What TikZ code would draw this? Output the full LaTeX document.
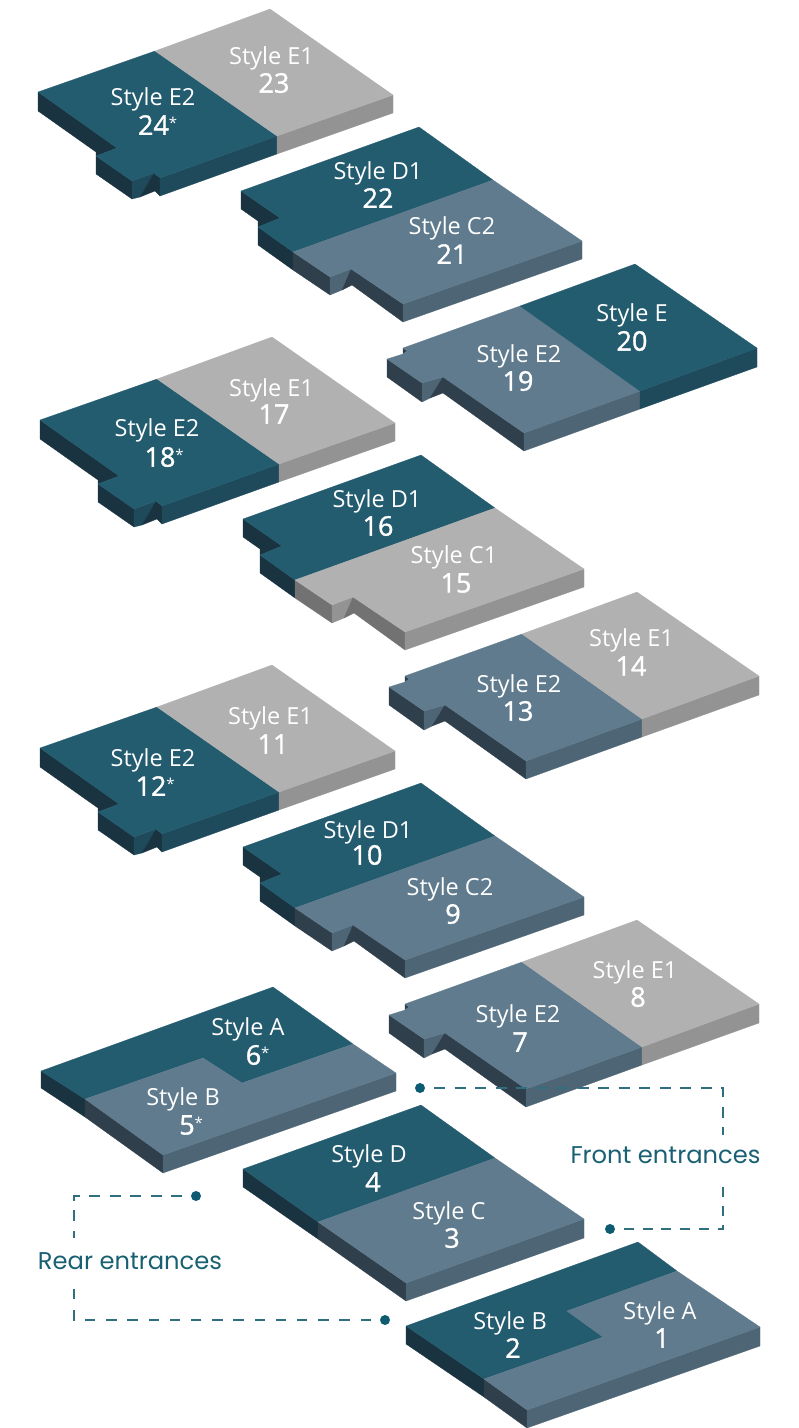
\documentclass[tikz,border=0pt]{standalone}
\usepackage{fontspec}
\setmainfont{Open Sans}
\newfontfamily\numfont[FakeBold=1.3]{Open Sans}
\newfontfamily\capfont{Poppins}
\newcommand{\starmark}{\rlap{\raisebox{6.5pt}{\rmfamily\fontsize{15}{15}\selectfont *}}}
\definecolor{tealT}{HTML}{235B6F}\definecolor{tealF}{HTML}{1E4A5C}\definecolor{tealL}{HTML}{1A3340}
\definecolor{slateT}{HTML}{5F7B8D}\definecolor{slateF}{HTML}{4E6575}\definecolor{slateL}{HTML}{2F3F4B}
\definecolor{greyT}{HTML}{B1B1B1}\definecolor{greyF}{HTML}{939393}\definecolor{greyL}{HTML}{727272}
\definecolor{capc}{HTML}{1A6073}\definecolor{dashc}{HTML}{2F6F80}\definecolor{dotc}{HTML}{0F5C72}
\tikzset{
 facet/.style={fill=#1,draw=#1,line width=.25pt,line join=round},
 stylelab/.style={text=white,font=\fontsize{23.5}{25}\selectfont,inner sep=0pt,yshift=-3pt},
 numlab/.style={text=white,font=\numfont\fontsize{27}{28}\selectfont,inner sep=0pt},
 caplab/.style={text=capc,font=\capfont\fontsize{24.2}{26}\selectfont,inner sep=0pt,yshift=-1pt},
 dotmark/.style={circle,fill=dotc,inner sep=0pt,minimum size=10pt},
 dashline/.style={draw=dashc,line width=1.1pt,shorten <=14pt}
}
\newcommand{\blockOne}[4]{\begin{scope}[shift={(#1,#2)}]
 \fill[facet=#3L] (38,92)--(117,148)--(96,156)--(96,152)--(38,111)--cycle;
 \fill[facet=#3L] (96,156)--(132,181)--(132,199)--(96,174)--cycle;
 \fill[facet=#3F] (132,181)--(154,173)--(140,197)--(132,199)--cycle;
 \fill[facet=#3L] (154,173)--(160,178)--(160,196)--(155,191)--(140,197)--cycle;
 \fill[facet=#3F] (160,178)--(277,136)--(277,154)--(160,196)--cycle;
 \fill[facet=#4F] (277,136)--(393,95)--(393,113)--(277,154)--cycle;
 \fill[facet=#3T] (38,92)--(155,51)--(277,136)--(160,178)--(154,173)--(132,181)--(96,156)--(117,148)--cycle;
 \fill[facet=#4T] (155,51)--(270,9)--(393,95)--(277,136)--cycle;
\end{scope}}
\newcommand{\blockTwo}[4]{\begin{scope}[shift={(#1,#2)}]
 \fill[facet=#3L] (241,191)--(280,218)--(258,227)--(258,221)--(241,209)--cycle;
 \fill[facet=#3L] (258,227)--(293,252)--(293,270)--(258,245)--cycle;
 \fill[facet=#4L] (293,252)--(330,277)--(330,295)--(293,270)--cycle;
 \fill[facet=#4F] (330,277)--(351,269)--(342,290)--(330,295)--cycle;
 \fill[facet=#4L] (351,269)--(342,290)--(352,285)--(403,322)--(403,304)--cycle;
 \fill[facet=#4F] (403,304)--(582,241)--(582,259)--(403,322)--cycle;
 \fill[facet=#3T] (241,191)--(419,127)--(493,180)--(293,252)--(258,227)--(280,218)--cycle;
 \fill[facet=#4T] (493,180)--(582,241)--(403,304)--(351,269)--(330,277)--(293,252)--cycle;
\end{scope}}
\newcommand{\blockThree}[4]{\begin{scope}[shift={(#1,#2)}]
 \fill[facet=#3L] (403,348)--(407,351)--(403,354)--cycle;
 \fill[facet=#3L] (387,359)--(422,383)--(422,402)--(387,377)--cycle;
 \fill[facet=#3F] (422,383)--(443,377)--(430,398)--(422,402)--cycle;
 \fill[facet=#3L] (443,377)--(430,398)--(443,393)--(524,451)--(524,433)--cycle;
 \fill[facet=#3F] (524,433)--(640,391)--(640,409)--(524,451)--cycle;
 \fill[facet=#4F] (640,391)--(757,348)--(757,367)--(640,409)--cycle;
 \fill[facet=#3T] (387,359)--(403,354)--(407,351)--(403,348)--(520,306)--(640,391)--(524,433)--(443,377)--(422,383)--cycle;
 \fill[facet=#4T] (520,306)--(635,264)--(757,348)--(640,391)--cycle;
\end{scope}}
\begin{document}
\begin{tikzpicture}[x=1pt,y=-1pt]
\useasboundingbox (0,0) rectangle (799,1428);
\blockOne{0}{0}{teal}{grey}
\blockTwo{0}{0}{teal}{slate}
\blockThree{0}{0}{slate}{teal}
\blockOne{2}{328}{teal}{grey}
\blockTwo{2}{328}{teal}{grey}
\blockThree{2}{328}{slate}{grey}
\blockOne{2}{656}{teal}{grey}
\blockTwo{2}{656}{teal}{slate}
\blockThree{2}{656}{slate}{grey}
% 6/5
\fill[facet=tealL] (41,1071)--(85,1099)--(85,1117)--(41,1088)--cycle;
\fill[facet=slateL] (85,1099)--(163,1155)--(163,1173)--(85,1117)--cycle;
\fill[facet=slateF] (163,1155)--(396,1073)--(396,1091)--(163,1173)--cycle;
\fill[facet=tealT] (41,1071)--(273,987)--(353,1044)--(242,1083)--(203,1058)--(85,1099)--cycle;
\fill[facet=slateT] (85,1099)--(203,1058)--(242,1083)--(353,1044)--(396,1073)--(163,1155)--cycle;
% 4/3
\fill[facet=tealL] (243,1169)--(318,1222)--(318,1239)--(243,1187)--cycle;
\fill[facet=slateL] (318,1222)--(406,1283)--(406,1301)--(318,1239)--cycle;
\fill[facet=slateF] (406,1283)--(584,1219)--(584,1238)--(406,1301)--cycle;
\fill[facet=tealT] (243,1169)--(421,1105)--(495,1158)--(318,1222)--cycle;
\fill[facet=slateT] (318,1222)--(495,1158)--(584,1219)--(406,1283)--cycle;
% 2/1
\fill[facet=tealL] (406,1326)--(484,1379)--(484,1397)--(406,1344)--cycle;
\fill[facet=slateL] (484,1379)--(527,1410)--(527,1428)--(484,1397)--cycle;
\fill[facet=slateF] (527,1410)--(760,1327)--(760,1346)--(527,1428)--cycle;
\fill[facet=tealT] (406,1326)--(638,1242)--(677,1271)--(567,1311)--(603,1337)--(484,1379)--cycle;
\fill[facet=slateT] (484,1379)--(603,1337)--(567,1311)--(677,1271)--(760,1327)--(527,1410)--cycle;
% labels
\node[stylelab] (s23) at (271.5,55) {Style E1}; \node[numlab] (n23) at (274,83) {23};
\node[stylelab] (s24) at (153,96) {Style E2}; \node[numlab] (n24) at (153.5,125) {24\starmark};
\node[stylelab] (s22) at (378,170) {Style D1}; \node[numlab] (n22) at (378,198) {22};
\node[stylelab] (s21) at (452,225) {Style C2}; \node[numlab] (n21) at (452,254) {21};
\node[stylelab] (s20) at (632,312) {Style E}; \node[numlab] (n20) at (632,341) {20};
\node[stylelab] (s19) at (519,353) {Style E2}; \node[numlab] (n19) at (518,381) {19};
\node[stylelab] (s17) at (271.5,387) {Style E1}; \node[numlab] (n17) at (274,414) {17};
\node[stylelab] (s18) at (157,427) {Style E2}; \node[numlab] (n18) at (160,457) {18\starmark};
\node[stylelab] (s16) at (377,498) {Style D1}; \node[numlab] (n16) at (378,526) {16};
\node[stylelab] (s15) at (454,554) {Style C1}; \node[numlab] (n15) at (456,583) {15};
\node[stylelab] (s14) at (631.5,637) {Style E1}; \node[numlab] (n14) at (631,666) {14};
\node[stylelab] (s13) at (519,683) {Style E2}; \node[numlab] (n13) at (518,711) {13};
\node[stylelab] (s11) at (270.5,715) {Style E1}; \node[numlab] (n11) at (273,744) {11};
\node[stylelab] (s12) at (153,757) {Style E2}; \node[numlab] (n12) at (151,786) {12\starmark};
\node[stylelab] (s10) at (368,829) {Style D1}; \node[numlab] (n10) at (367,855) {10};
\node[stylelab] (s9) at (450,886) {Style C2}; \node[numlab] (n9) at (453,914) {9};
\node[stylelab] (s8) at (635,969) {Style E1}; \node[numlab] (n8) at (638,997) {8};
\node[stylelab] (s7) at (518,1013) {Style E2}; \node[numlab] (n7) at (520,1042) {7};
\node[stylelab] (s6) at (248,1026) {Style A}; \node[numlab] (n6) at (253.5,1055) {6\starmark};
\node[stylelab] (s5) at (183,1096) {Style B}; \node[numlab] (n5) at (187,1125) {5\starmark};
\node[stylelab] (s4) at (369,1153) {Style D}; \node[numlab] (n4) at (373,1182) {4};
\node[stylelab] (s3) at (449,1210) {Style C}; \node[numlab] (n3) at (452,1238) {3};
\node[stylelab] (s2) at (510,1320) {Style B}; \node[numlab] (n2) at (513,1348) {2};
\node[stylelab] (s1) at (660,1310) {Style A}; \node[numlab] (n1) at (662,1338) {1};
% captions and leaders
\node[caplab] (rear) at (130,1260) {Rear entrances};
\node[caplab] (front) at (665.5,1154) {Front entrances};
\node[dotmark] (rd1) at (196,1196) {};
\node[dotmark] (rd2) at (385,1320) {};
\node[dotmark] (fd1) at (420,1088) {};
\node[dotmark] (fd2) at (610,1229) {};
\coordinate (rc1) at (74,1196); \coordinate (re1) at (74,1238);
\coordinate (rc2) at (74,1320); \coordinate (re2) at (74,1285);
\coordinate (fc1) at (723,1088); \coordinate (fe1) at (723,1135);
\coordinate (fc2) at (723,1229); \coordinate (fe2) at (723,1187);
\draw[dashline,dash pattern=on 11pt off 9.4pt] (rd1.center) -- (rc1) -- (re1);
\draw[dashline,dash pattern=on 10.5pt off 10.7pt] (rd2.center) -- (rc2) -- (re2);
\draw[dashline,dash pattern=on 11pt off 9.5pt] (fd1.center) -- (fc1) -- (fe1);
\draw[dashline,dash pattern=on 10pt off 8.7pt] (fd2.center) -- (fc2) -- (fe2);
\end{tikzpicture}
\end{document}
